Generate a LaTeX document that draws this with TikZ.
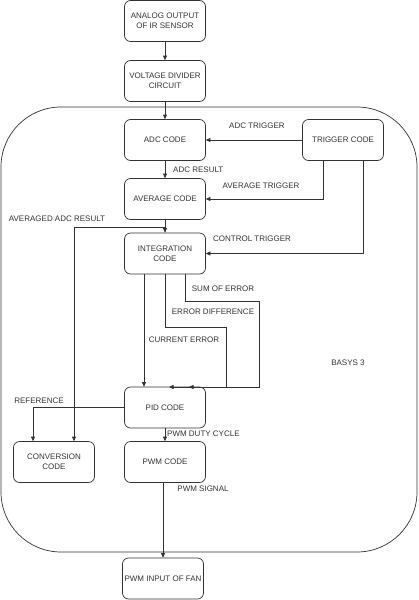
\documentclass[tikz,border=0pt]{standalone}
\usepackage{fontspec}
\setmainfont{Liberation Sans}
\usetikzlibrary{arrows.meta}
\begin{document}
\begin{tikzpicture}[x=1pt,y=-1pt,
  box/.style={draw=black!80, rounded corners=6pt, minimum width=81pt, minimum height=41pt, align=center, inner sep=1pt, font=\fontsize{8}{10.2}\selectfont, text=black!80, line width=0.7pt},
  lbl/.style={inner sep=0pt, font=\fontsize{8}{10.2}\selectfont, text=black!80},
  arr/.style={-{Triangle[length=4.5pt,width=4pt]}, line width=0.7pt, draw=black!80},
  ln/.style={line width=0.7pt, draw=black!80}]
\useasboundingbox (0,0) rectangle (418,600);
% outer board
\draw[ln, rounded corners=60pt] (1,107) rectangle (417,552);
% nodes
\node[box] (ana) at (165,21) {ANALOG OUTPUT\\OF IR SENSOR};
\node[box] (vd) at (165,81) {VOLTAGE DIVIDER\\CIRCUIT};
\node[box] (adc) at (165,140) {ADC CODE};
\node[box] (trig) at (343,140) {TRIGGER CODE};
\node[box] (avg) at (165,199) {AVERAGE CODE};
\node[box] (integ) at (165,253.5) {INTEGRATION\\CODE};
\node[box] (pid) at (165,407.5) {PID CODE};
\node[box] (conv) at (54,462) {CONVERSION\\CODE};
\node[box] (pwm) at (165,462) {PWM CODE};
\node[box] (fan) at (163,578.5) {PWM INPUT OF FAN};
% helper coordinates
\coordinate (j) at (165,227);
\coordinate (ed1) at (226,327);
\coordinate (ed2) at (226,387);
\coordinate (ed3) at (169,387);
\coordinate (se1) at (259,301);
\coordinate (se2) at (259,387);
\coordinate (se3) at (189,387);
% connectors
\draw[arr] (ana) -- (vd);
\draw[arr] (vd) -- (adc);
\draw[arr] (trig) -- (adc);
\draw[arr] ([xshift=-20pt]trig.south) |- (avg.east);
\draw[arr] ([xshift=20pt]trig.south) |- (integ.east);
\draw[arr] (adc) -- (avg);
\draw[arr] (avg) -- (integ);
\draw[arr] (j) -| ([xshift=20pt]conv.north);
\draw[arr] ([xshift=-21pt]integ.south) -- ([xshift=-21pt]pid.north);
\draw[arr] (integ.south) |- (ed1) -- (ed2) -- (ed3);
\draw[arr] ([xshift=20pt]integ.south) |- (se1) -- (se2) -- (se3);
\draw[arr] (pid.west) -| ([xshift=-21pt]conv.north);
\draw[arr] (pid) -- (pwm);
\draw[arr] (pwm.south -| fan.north) -- (fan.north);
% labels
\node[lbl] at (257,126) {ADC TRIGGER};
\node[lbl, anchor=west] at (173,170) {ADC RESULT};
\node[lbl] at (261,186) {AVERAGE TRIGGER};
\node[lbl] at (57,219) {AVERAGED ADC RESULT};
\node[lbl] at (252,239) {CONTROL TRIGGER};
\node[lbl] at (223,289) {SUM OF ERROR};
\node[lbl] at (213,312) {ERROR DIFFERENCE};
\node[lbl] at (184,340) {CURRENT ERROR};
\node[lbl] at (348,363) {BASYS 3};
\node[lbl] at (39,401) {REFERENCE};
\node[lbl, anchor=west] at (167,434) {PWM DUTY CYCLE};
\node[lbl] at (203,489) {PWM SIGNAL};
\end{tikzpicture}
\end{document}
